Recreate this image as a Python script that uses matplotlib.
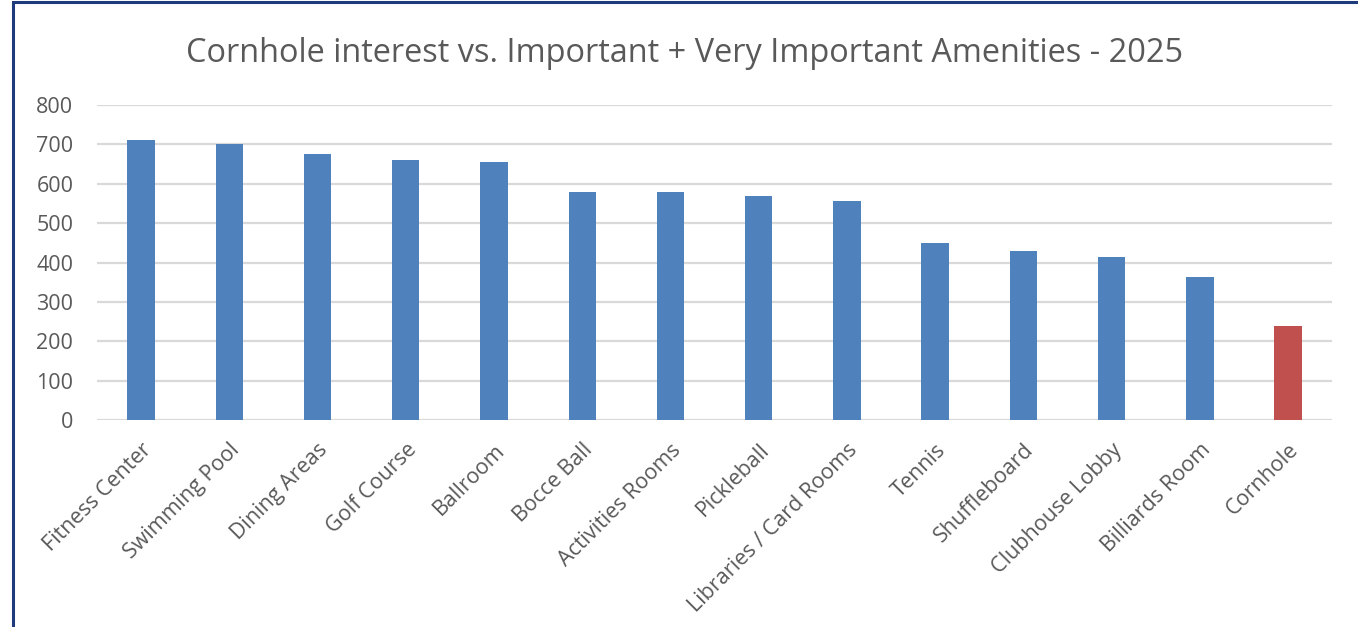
import matplotlib.pyplot as plt
from matplotlib.patches import Rectangle

# Data
amenities = [
    'Fitness Center', 'Swimming Pool', 'Dining Areas', 'Golf Course', 'Ballroom',
    'Bocce Ball', 'Activities Rooms', 'Pickleball', 'Libraries / Card Rooms',
    'Tennis', 'Shuffleboard', 'Clubhouse Lobby', 'Billiards Room', 'Cornhole'
]
counts = [711, 701, 675, 660, 655, 579, 579, 569, 556, 449, 429, 414, 363, 239]
highlight = 'Cornhole'

blue = '#4f81bd'
red = '#c0504d'
grey = '#595959'

plt.rcParams['font.family'] = ['Open Sans', 'DejaVu Sans']

fig = plt.figure(figsize=(13.58, 6.27), dpi=100)
ax = fig.add_axes([0.0714, 0.330, 0.9096, 0.5025])

colors = [red if a == highlight else blue for a in amenities]
x = range(len(amenities))
ax.bar(x, counts, width=0.31, color=colors, zorder=3)

ax.set_xlim(-0.5, len(amenities) - 0.5)
ax.set_ylim(0, 800)
ax.set_yticks(range(0, 801, 100))
ax.yaxis.grid(True, color='#d9d9d9', linewidth=1.6, zorder=0)
ax.set_axisbelow(True)
for s in ax.spines.values():
    s.set_visible(False)

ax.set_xticks(list(x))
ax.set_xticklabels(amenities, rotation=45, ha='right', rotation_mode='anchor',
                   fontsize=15.5, color=grey)
ax.tick_params(axis='x', length=0, pad=14)
ax.tick_params(axis='y', length=0, pad=17, labelsize=15.5, labelcolor=grey)

fig.text(0.504, 0.915, 'Cornhole interest vs. Important + Very Important Amenities - 2025',
         ha='center', va='center', fontsize=23.4, color=grey)

# chart frame, partly cropped in the original
fig.patches.append(Rectangle((13 / 1358, -0.1), 1.2, 1.1 - 2 / 627,
                             transform=fig.transFigure, fill=False,
                             edgecolor='#1f3a7a', linewidth=2.2))

fig.savefig('out.png', dpi=100)
